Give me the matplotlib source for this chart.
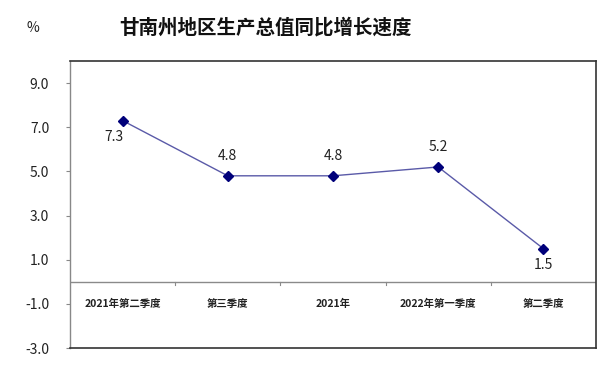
import numpy as np
import matplotlib
matplotlib.use("Agg")
import matplotlib.pyplot as plt

plt.rcParams['font.family'] = ['Noto Sans CJK SC', 'DejaVu Sans']

# data
categories = ["2021年第二季度", "第三季度", "2021年", "2022年第一季度", "第二季度"]
growth     = [7.3, 4.8, 4.8, 5.2, 1.5]
label_pos  = ["below", "above", "above", "above", "below"]
yticks     = [-3.0, -1.0, 1.0, 3.0, 5.0, 7.0, 9.0]

fig = plt.figure(figsize=[6.13, 3.65], dpi=100)
ax = fig.add_axes([70/613, 17/365, 526/613, 287/365])

x = np.arange(len(categories))
ax.plot(x, growth, color='#5a5aa8', lw=1.0, marker='D', markersize=5,
        markerfacecolor='#00007a', markeredgecolor='#00007a', zorder=3)

# data labels
for xi, v, pos in zip(x, growth, label_pos):
    if pos == "above":
        ax.annotate(f"{v:.1f}", (xi, v), xytext=(0, 9), textcoords='offset points',
                    ha='center', va='bottom', fontsize=10, color='#222222')
    else:
        dx = -6 if xi == 0 else 0
        ax.annotate(f"{v:.1f}", (xi, v), xytext=(dx, -7), textcoords='offset points',
                    ha='center', va='top', fontsize=10, color='#222222')

ax.set_xlim(-0.5, len(categories) - 0.5)
ax.set_ylim(-3, 10)
ax.set_yticks(yticks)
ax.set_yticklabels([f"{t:.1f}" for t in yticks], fontsize=10, color='#222222')
ax.tick_params(axis='y', length=3, width=0.8, color='#888888', pad=12)
ax.set_xticks([])

# category axis at zero
ax.axhline(0, color='#8a8a8a', lw=1.0, zorder=2)
for b in np.arange(0.5, len(categories) - 0.5):
    ax.plot([b, b], [0, -0.15], color='#8a8a8a', lw=0.8, zorder=2)
for xi, c in zip(x, categories):
    ax.text(xi, -1.0, c, ha='center', va='center', fontsize=7.5,
            color='#222222', fontweight='bold')

for s in ['top', 'right', 'bottom']:
    ax.spines[s].set_color('#333333')
    ax.spines[s].set_linewidth(1.2)
ax.spines['left'].set_color('#888888')
ax.spines['left'].set_linewidth(1.0)

fig.text(266/613, 1 - 28/365, "甘南州地区生产总值同比增长速度", ha='center', va='center',
         fontsize=14, fontweight='bold', color='#111111')
fig.text(33/613, 1 - 28/365, "%", ha='center', va='center', fontsize=10, color='#222222')

fig.savefig("out.png", dpi=100)
